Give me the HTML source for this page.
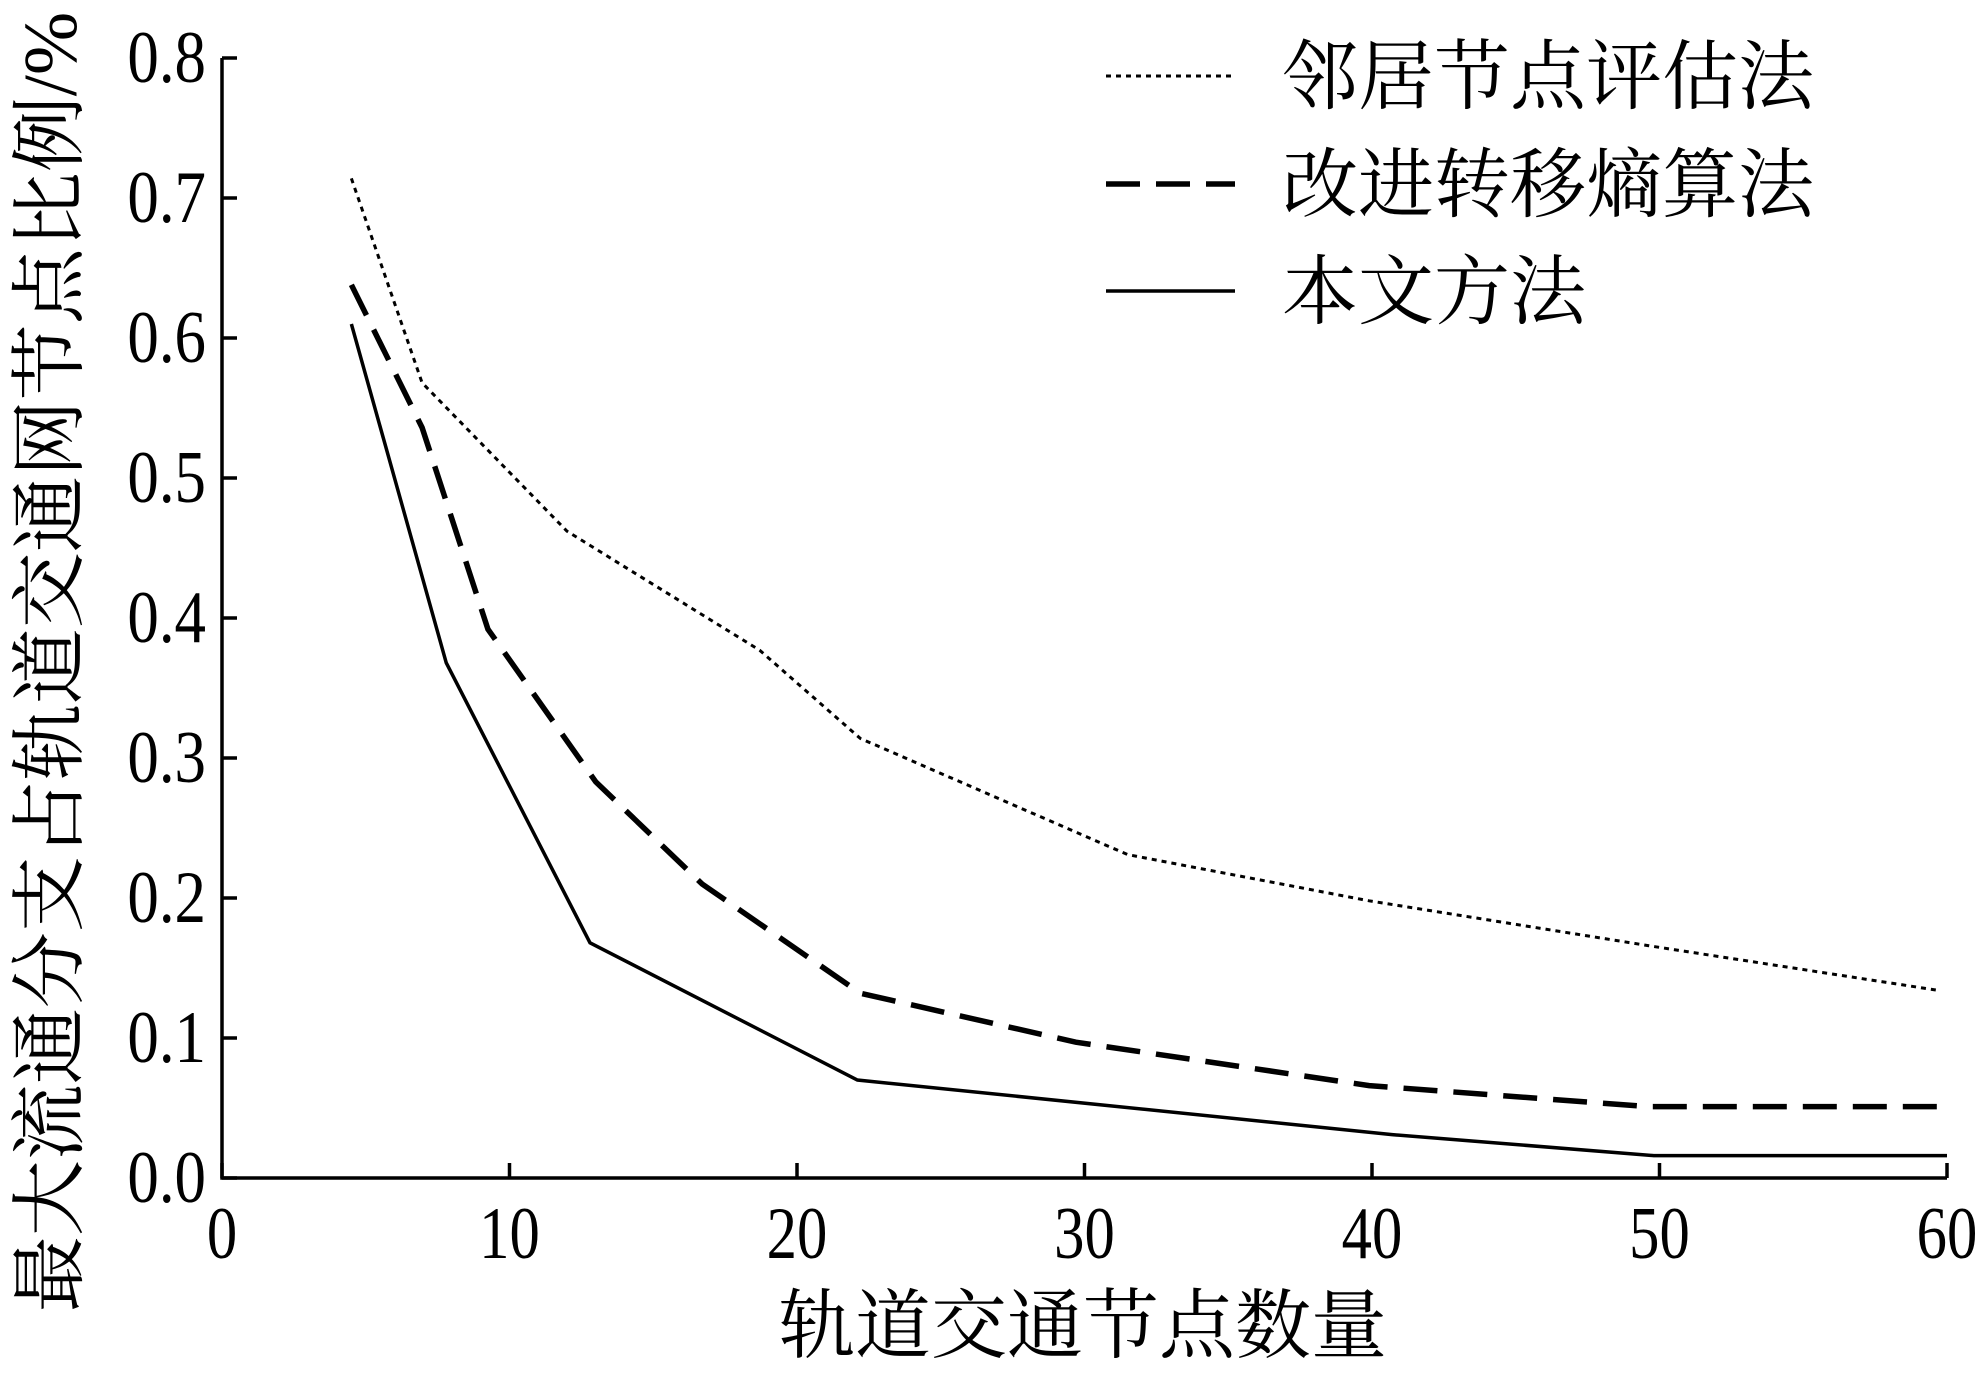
<!DOCTYPE html>
<html><head><meta charset="utf-8"><style>
html,body{margin:0;padding:0;background:#fff;}
svg{display:block;}
text{fill:#000;}
.tk{font-family:"Liberation Serif",serif;font-size:74px;}
.cj{font-family:"Liberation Serif","Noto Serif CJK SC",serif;font-size:76px;}
</style></head><body>
<svg id="chart" width="1986" height="1376" viewBox="0 0 1986 1376">
<g id="axes"></g>
<g id="series"></g>
<g id="legend"></g>
<text class="cj" x="1083" y="1352" text-anchor="middle">轨道交通节点数量</text>
<text class="cj" transform="translate(76,662) rotate(-90)" text-anchor="middle">最大流通分支占轨道交通网节点比例/%</text>
</svg>
<script>
const xTicks=[0,10,20,30,40,50,60];
const yTicks=[0,0.1,0.2,0.3,0.4,0.5,0.6,0.7,0.8];
const yTickLabels=["0.0","0.1","0.2","0.3","0.4","0.5","0.6","0.7","0.8"];
const neighborX=[4.5,6.96,12,18.7,22.2,31.5,39.9,49.6,59.7];
const neighborY=[0.714,0.568,0.462,0.377,0.314,0.231,0.198,0.166,0.134];
const entropyX=[4.5,6.96,9.25,13,16.7,22.2,29.7,39.9,49.6,60];
const entropyY=[0.638,0.536,0.392,0.283,0.21,0.132,0.097,0.066,0.051,0.051];
const oursX=[4.5,7.8,12.8,22.1,40.7,49.8,60];
const oursY=[0.61,0.368,0.168,0.07,0.031,0.016,0.016];
const seriesNames=["邻居节点评估法","改进转移熵算法","本文方法"];

const NS="http://www.w3.org/2000/svg";
const X0=222,X1=1947,Y0=1178,Y1=58;
const sx=v=>X0+(v-0)/(60-0)*(X1-X0);
const sy=v=>Y0-(v-0)/(0.8-0)*(Y0-Y1);
function mk(tag,attrs,parent){const e=document.createElementNS(NS,tag);for(const k in attrs)e.setAttribute(k,attrs[k]);parent.appendChild(e);return e;}
const axes=document.getElementById('axes');
let a=mk('path',{d:`M${X0},${Y1} L${X0},${Y0} L${X1},${Y0}`,fill:'none',stroke:'#000','stroke-width':3.5},axes);


xTicks.forEach(t=>{
  const x=sx(t);
  const l=mk('line',{x1:x,y1:Y0,x2:x,y2:Y0-15,stroke:'#000','stroke-width':3.5},axes);
  
  
  const tx=mk('text',{class:'tk',x:0,y:0,'text-anchor':'middle',transform:`translate(${x},${Y0+80}) scale(0.82,1)`},axes);
  tx.textContent=t;
  
  
});
yTicks.forEach((t,i)=>{
  const y=sy(t);
  const l=mk('line',{x1:X0,y1:y,x2:X0+15,y2:y,stroke:'#000','stroke-width':3.5},axes);
  
  
  const tx=mk('text',{class:'tk',x:0,y:0,'text-anchor':'end',transform:`translate(${X0-16},${y+24}) scale(0.85,1)`},axes);
  tx.textContent=yTickLabels[i];
  
  
});
const styles=[{w:3,d:'5 5'},{w:5.5,d:'34 16'},{w:3.5,d:''}];
const sets=[[neighborX,neighborY],[entropyX,entropyY],[oursX,oursY]];
const names=['neighbor-series-line','entropy-series-line','proposed-series-line'];
const ser=document.getElementById('series');
sets.forEach((s,i)=>{
  const pts=s[0].map((x,j)=>sx(x)+','+sy(s[1][j])).join(' ');
  const p=mk('polyline',{points:pts,fill:'none',stroke:'#000','stroke-width':styles[i].w,'stroke-dasharray':styles[i].d},ser);
  
  
});
const leg=document.getElementById('legend');
const ly=[76,184,291];
seriesNames.forEach((n,i)=>{
  const l=mk('line',{x1:1106,y1:ly[i],x2:1235,y2:ly[i],stroke:'#000','stroke-width':styles[i].w,'stroke-dasharray':styles[i].d},leg);
  
  
  const t=mk('text',{class:'cj',x:1282,y:ly[i]+27},leg);
  t.textContent=n;
  
  
});
</script>
</body></html>
